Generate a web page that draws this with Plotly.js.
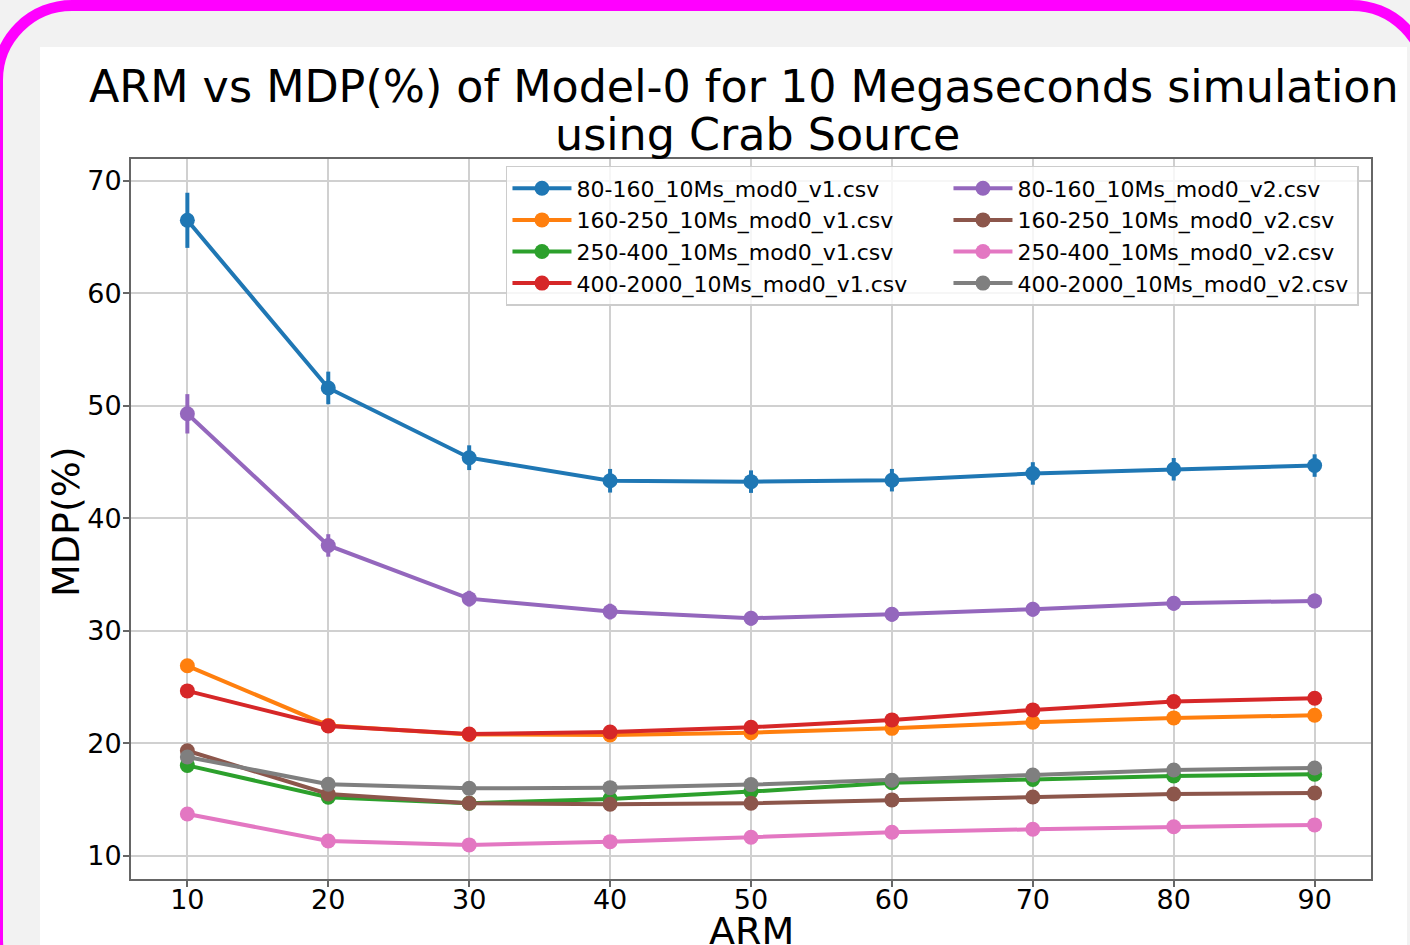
<!DOCTYPE html>
<html>
<head>
<meta charset="utf-8">
<script src="https://cdn.plot.ly/plotly-3.0.1.min.js"></script>
<style>
  html, body { margin: 0; padding: 0; width: 1410px; height: 945px; overflow: hidden; background: #f2f2f2; }
  #frame { position: absolute; left: -8px; top: 0px; width: 1440px; height: 1020px; box-sizing: border-box;
           border: 11px solid #ff00ff; border-radius: 80px; background: #f2f2f2; }
  #chart { position: absolute; left: 40px; top: 47px; width: 1367px; height: 898px; background: #ffffff; }
</style>
</head>
<body>
<div id="frame"></div>
<div id="chart"></div>
<script>
// ---- data ----
const arm = [10, 20, 30, 40, 50, 60, 70, 80, 90];

const names = [
  "80-160_10Ms_mod0_v1.csv", "160-250_10Ms_mod0_v1.csv", "250-400_10Ms_mod0_v1.csv", "400-2000_10Ms_mod0_v1.csv",
  "80-160_10Ms_mod0_v2.csv", "160-250_10Ms_mod0_v2.csv", "250-400_10Ms_mod0_v2.csv", "400-2000_10Ms_mod0_v2.csv"
];

const mdp_80_160_v1    = [66.5, 51.6, 45.4, 43.35, 43.27, 43.4, 44.0, 44.37, 44.7];
const mdp_160_250_v1   = [26.9, 21.6, 20.8, 20.76, 20.96, 21.34, 21.88, 22.27, 22.5];
const mdp_250_400_v1   = [18.05, 15.22, 14.68, 15.07, 15.72, 16.5, 16.8, 17.1, 17.26];
const mdp_400_2000_v1  = [24.67, 21.56, 20.84, 21.02, 21.44, 22.09, 22.98, 23.72, 24.02];
const mdp_80_160_v2    = [49.3, 37.6, 32.87, 31.72, 31.13, 31.48, 31.93, 32.46, 32.67];
const mdp_160_250_v2   = [19.35, 15.51, 14.68, 14.6, 14.68, 14.98, 15.24, 15.51, 15.6];
const mdp_250_400_v2   = [13.73, 11.33, 10.98, 11.27, 11.66, 12.1, 12.37, 12.6, 12.76];
const mdp_400_2000_v2  = [18.8, 16.37, 16.01, 16.07, 16.34, 16.73, 17.2, 17.64, 17.82];

const err_80_160_v1    = [2.45, 1.45, 1.1, 1.05, 1.0, 1.0, 1.0, 1.0, 1.0];
const err_160_250_v1   = [0.45, 0.35, 0.3, 0.3, 0.3, 0.3, 0.3, 0.3, 0.3];
const err_250_400_v1   = [0.35, 0.3, 0.25, 0.25, 0.25, 0.25, 0.25, 0.25, 0.25];
const err_400_2000_v1  = [0.4, 0.35, 0.3, 0.3, 0.3, 0.3, 0.3, 0.3, 0.3];
const err_80_160_v2    = [1.75, 1.0, 0.7, 0.7, 0.65, 0.65, 0.65, 0.65, 0.65];
const err_160_250_v2   = [0.35, 0.3, 0.25, 0.25, 0.25, 0.25, 0.25, 0.25, 0.25];
const err_250_400_v2   = [0.3, 0.25, 0.2, 0.2, 0.2, 0.2, 0.2, 0.2, 0.2];
const err_400_2000_v2  = [0.35, 0.3, 0.25, 0.25, 0.25, 0.25, 0.25, 0.25, 0.25];

const titleLine1 = "ARM vs MDP(%) of Model-0 for 10 Megaseconds simulation";
const titleLine2 = "using Crab Source";
const xTitle = "ARM";
const yTitle = "MDP(%)";

// ---- styling ----
const colors = ["#1f77b4", "#ff7f0e", "#2ca02c", "#d62728", "#9467bd", "#8c564b", "#e377c2", "#7f7f7f"];
const seriesY = [mdp_80_160_v1, mdp_160_250_v1, mdp_250_400_v1, mdp_400_2000_v1,
                 mdp_80_160_v2, mdp_160_250_v2, mdp_250_400_v2, mdp_400_2000_v2];
const seriesE = [err_80_160_v1, err_160_250_v1, err_250_400_v1, err_400_2000_v1,
                 err_80_160_v2, err_160_250_v2, err_250_400_v2, err_400_2000_v2];
const ranks = [1, 3, 5, 7, 2, 4, 6, 8];

const font = "DejaVu Sans, sans-serif";

const traces = seriesY.map((y, i) => ({
  type: "scatter",
  mode: "lines+markers",
  x: arm,
  y: y,
  name: names[i],
  legendrank: ranks[i],
  legendwidth: i < 4 ? 367 : 335,
  line: { color: colors[i], width: 4 },
  marker: { color: colors[i], size: 15 },
  error_y: { type: "data", array: seriesE[i], visible: true, color: colors[i], thickness: 4, width: 0 }
}));

const axisCommon = {
  showline: true, mirror: true, linecolor: "#666666", linewidth: 2,
  ticks: "outside", ticklen: 6, tickwidth: 1.5, tickcolor: "#666666",
  showgrid: true, gridcolor: "#d0d0d0", gridwidth: 1.5,
  zeroline: false,
  tickfont: { family: font, size: 27, color: "#000000" }
};

const textFont = (s) => ({ family: font, size: s, color: "#000000" });

const layout = {
  width: 1367, height: 898,
  paper_bgcolor: "#ffffff", plot_bgcolor: "#ffffff",
  margin: { l: 91, r: 36, t: 112, b: 66 },
  font: { family: font, color: "#000000" },
  showlegend: true,
  legend: {
    orientation: "h",
    x: 0.3024, y: 0.9903, xanchor: "left", yanchor: "top",
    itemwidth: 59,
    bgcolor: "rgba(255,255,255,0.8)", bordercolor: "#cccccc", borderwidth: 1.5,
    font: textFont(22),
    traceorder: "normal"
  },
  xaxis: Object.assign({}, axisCommon, {
    range: [6, 94], dtick: 10, tick0: 10,
    ticklabelstandoff: -10
  }),
  yaxis: Object.assign({}, axisCommon, {
    range: [7.95, 71.95], dtick: 10, tick0: 10,
    ticklabelstandoff: -4
  }),
  annotations: [
    { text: titleLine1, xref: "paper", yref: "paper", x: 0.4944, y: 1.1007, xanchor: "center", yanchor: "middle",
      showarrow: false, font: textFont(44.4) },
    { text: titleLine2, xref: "paper", yref: "paper", x: 0.5056, y: 1.0347, xanchor: "center", yanchor: "middle",
      showarrow: false, font: textFont(44.4) },
    { text: xTitle, xref: "paper", yref: "paper", x: 0.5, y: -0.0729, xanchor: "center", yanchor: "middle",
      showarrow: false, font: textFont(38) },
    { text: yTitle, xref: "paper", yref: "paper", x: -0.0524, y: 0.4958, xanchor: "center", yanchor: "middle",
      textangle: -90, showarrow: false, font: textFont(38) }
  ]
};

Plotly.newPlot("chart", traces, layout, { displayModeBar: false, responsive: false });
</script>
</body>
</html>
